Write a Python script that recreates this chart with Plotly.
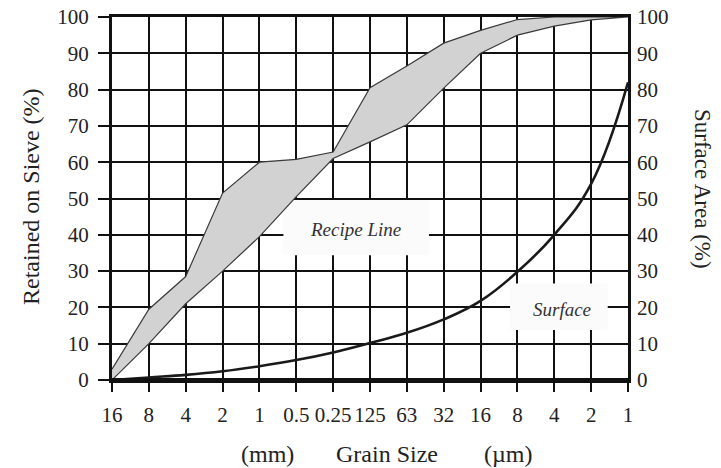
import plotly.graph_objects as go

# Categories (grain sizes)
grain_labels = ["16", "8", "4", "2", "1", "0.5", "0.25", "125", "63", "32", "16", "8", "4", "2", "1"]
x_idx = list(range(len(grain_labels)))

# Recipe band envelopes (% retained on sieve)
recipe_upper = [3, 19.5, 28.5, 51.5, 60, 60.8, 62.8, 80.5, 86.5, 92.8, 96.3, 99.3, 100, 100, 100]
recipe_lower = [0, 10, 21, 30, 39.5, 50.5, 61, 65.6, 70.3, 80.4, 90, 95, 97.5, 99.2, 100]

# Surface area curve (%)
surface_vals = [0, 0.7, 1.4, 2.4, 3.8, 5.5, 7.6, 10.2, 13, 16.7, 21.8, 29.8, 40, 54, 82]

y_ticks = [0, 10, 20, 30, 40, 50, 60, 70, 80, 90, 100]

FONT = "Liberation Serif"
fig = go.Figure()

# band
fig.add_trace(go.Scatter(
    x=x_idx + x_idx[::-1],
    y=recipe_upper + recipe_lower[::-1],
    fill="toself", fillcolor="#d2d2d2",
    line=dict(color="#3a3a3a", width=1.2),
    mode="lines", hoverinfo="skip", showlegend=False))

# surface curve
fig.add_trace(go.Scatter(
    x=x_idx, y=surface_vals, mode="lines",
    line=dict(color="#1a1a1a", width=2.6, shape="spline", smoothing=1.2),
    yaxis="y2", showlegend=False, cliponaxis=False))

# label boxes (above gridlines, below traces)
fig.add_shape(type="rect", x0=4.65, x1=8.6, y0=34.4, y1=49.6,
              xref="x", yref="y", fillcolor="#fbfbfb", line=dict(width=0), layer="between")
fig.add_shape(type="rect", x0=10.8, x1=13.45, y0=13.8, y1=26.6,
              xref="x", yref="y", fillcolor="#fbfbfb", line=dict(width=0), layer="between")

fig.add_annotation(x=6.6, y=41.5, xref="x", yref="y", text="<i>Recipe Line</i>",
                   showarrow=False, font=dict(family=FONT, size=19, color="#333"))
fig.add_annotation(x=12.2, y=19.5, xref="x", yref="y", text="<i>Surface</i>",
                   showarrow=False, font=dict(family=FONT, size=19, color="#333"))

# heavy bottom line
fig.add_shape(type="line", x0=0, x1=1, y0=0, y1=0, xref="paper", yref="paper",
              line=dict(color="#111", width=4), layer="above")

# axis titles
def px_x(p):
    return (p - 112) / 516.0

def px_y(p):
    return (380 - p) / 363.0

title_font = dict(family=FONT, size=24, color="#222")
fig.add_annotation(x=px_x(31), y=px_y(197), xref="paper", yref="paper", text="Retained on Sieve (%)",
                   textangle=-90, showarrow=False, xanchor="center", yanchor="middle", font=title_font)
fig.add_annotation(x=px_x(703), y=px_y(189), xref="paper", yref="paper", text="Surface Area (%)",
                   textangle=90, showarrow=False, xanchor="center", yanchor="middle",
                   font=dict(family=FONT, size=23, color="#222"))
fig.add_annotation(x=px_x(267), y=px_y(454), xref="paper", yref="paper", text="(mm)",
                   showarrow=False, xanchor="center", yanchor="middle", font=title_font)
fig.add_annotation(x=px_x(387), y=px_y(454), xref="paper", yref="paper", text="Grain Size",
                   showarrow=False, xanchor="center", yanchor="middle", font=title_font)
fig.add_annotation(x=px_x(508), y=px_y(454), xref="paper", yref="paper", text="(µm)",
                   showarrow=False, xanchor="center", yanchor="middle", font=title_font)

tickfont = dict(family=FONT, size=21, color="#222")
fig.update_layout(
    width=721, height=468,
    margin=dict(l=112, r=93, t=17, b=88, autoexpand=False),
    paper_bgcolor="white", plot_bgcolor="white",
    xaxis=dict(range=[0, 14], tickmode="array", tickvals=x_idx, ticktext=grain_labels,
               showgrid=True, gridcolor="#111", gridwidth=1.6,
               ticks="outside", ticklen=9, tickwidth=1.6, tickcolor="#111",
               showline=True, linecolor="#111", linewidth=3, mirror=True,
               zeroline=False, tickfont=tickfont, ticklabelstandoff=5, automargin=False),
    yaxis=dict(range=[0, 100], tickmode="array", tickvals=y_ticks,
               showgrid=True, gridcolor="#111", gridwidth=1.6,
               ticks="outside", ticklen=11, tickwidth=1.6, tickcolor="#111",
               showline=True, linecolor="#111", linewidth=3, mirror=True,
               zeroline=False, tickfont=tickfont, ticklabelstandoff=5, automargin=False),
    yaxis2=dict(range=[0, 100], tickmode="array", tickvals=y_ticks, overlaying="y", side="right",
                showgrid=False, ticks="", zeroline=False, showline=False,
                tickfont=tickfont, ticklabelstandoff=8, automargin=False),
)

fig.write_html("out.html")
